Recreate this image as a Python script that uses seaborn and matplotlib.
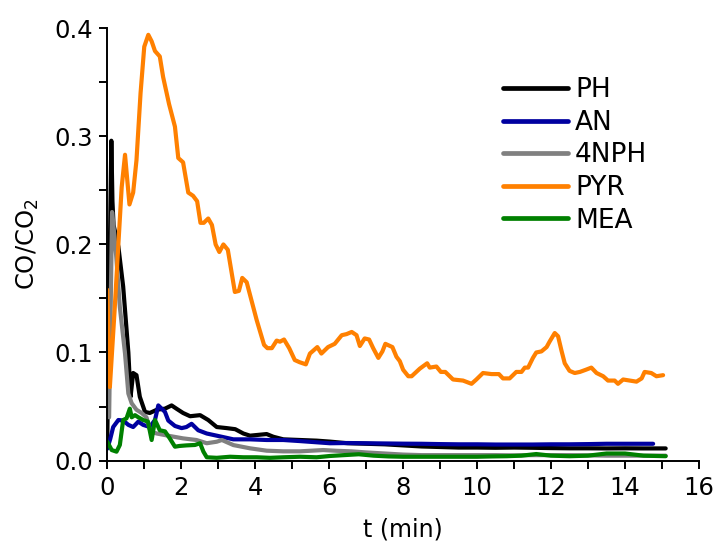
import pandas as pd
import matplotlib
matplotlib.use("Agg")
import matplotlib.pyplot as plt
import seaborn as sns
from matplotlib.ticker import MultipleLocator

# --- data (t in min, CO/CO2 ratio) ---
ph_t = [0, 0.06, 0.11, 0.14, 0.17, 0.3, 0.43, 0.57, 0.63, 0.70, 0.79, 0.88, 1.02, 1.15, 1.34,
        1.56, 1.74, 1.87, 2.05, 2.24, 2.51, 2.73, 2.96, 3.23, 3.46, 3.68, 3.86, 4.31, 4.49, 4.76,
        5.21, 5.66, 6.02, 6.5, 7.0, 7.5, 8.0, 8.5, 9.0, 9.5, 10.0, 10.5, 11.0, 11.5, 12.0, 12.5,
        13.0, 13.5, 14.0, 14.5, 15.1]
ph_y = [0.02, 0.17, 0.296, 0.24, 0.218, 0.198, 0.161, 0.1, 0.059, 0.081, 0.079, 0.059, 0.045,
        0.044, 0.047, 0.048, 0.051, 0.048, 0.044, 0.041, 0.042, 0.0375, 0.031, 0.030, 0.029,
        0.025, 0.023, 0.0245, 0.022, 0.0196, 0.019, 0.0184, 0.0175, 0.016, 0.0155, 0.015, 0.014,
        0.013, 0.0125, 0.012, 0.012, 0.0118, 0.012, 0.0118, 0.0115, 0.0113, 0.0113, 0.0112,
        0.0113, 0.0112, 0.0112]

an_t = [0, 0.08, 0.16, 0.3, 0.43, 0.57, 0.70, 0.84, 0.97, 1.15, 1.29, 1.38, 1.47, 1.56, 1.65,
        1.83, 2.01, 2.14, 2.28, 2.46, 2.69, 2.96, 3.41, 3.86, 4.31, 4.76, 5.21, 6.02, 6.5, 7.0,
        7.5, 8.0, 8.5, 9.0, 9.5, 10.0, 10.5, 11.0, 11.5, 12.0, 12.5, 13.0, 13.5, 14.0, 14.5, 14.76]
an_y = [0.011, 0.02, 0.031, 0.0375, 0.037, 0.033, 0.031, 0.036, 0.033, 0.031, 0.0375, 0.051,
        0.048, 0.045, 0.037, 0.032, 0.030, 0.031, 0.034, 0.028, 0.025, 0.023, 0.0196, 0.0196,
        0.019, 0.019, 0.018, 0.016, 0.0162, 0.016, 0.0158, 0.0156, 0.0155, 0.0152, 0.015, 0.015,
        0.0148, 0.0148, 0.0148, 0.015, 0.015, 0.0152, 0.0155, 0.0155, 0.0155, 0.0155]

nph_t = [0.05, 0.1, 0.13, 0.16, 0.24, 0.34, 0.48, 0.57, 0.66, 0.79, 0.93, 1.06, 1.15, 1.24, 1.34,
         1.69, 2.05, 2.41, 2.69, 2.96, 3.1, 3.41, 3.86, 4.31, 4.76, 5.21, 5.84, 6.2, 6.6, 7.0,
         7.5, 8.0, 8.5, 9.0, 9.5, 10.0, 10.5, 11.0, 11.5, 12.0, 12.5, 13.0, 13.5, 14.0, 14.5, 15.1]
nph_y = [0.04, 0.16, 0.23, 0.22, 0.19, 0.142, 0.099, 0.062, 0.053, 0.047, 0.044, 0.04, 0.029,
         0.026, 0.025, 0.0227, 0.0205, 0.019, 0.016, 0.0174, 0.019, 0.0143, 0.0113, 0.0091,
         0.0085, 0.0085, 0.0097, 0.009, 0.0085, 0.0075, 0.0065, 0.0055, 0.005, 0.005, 0.005,
         0.005, 0.005, 0.0048, 0.005, 0.005, 0.005, 0.0048, 0.0045, 0.0045, 0.0045, 0.0045]

pyr_t = [0, 0.07, 0.2, 0.3, 0.39, 0.48, 0.6, 0.7, 0.79, 0.9, 1.0, 1.11, 1.2, 1.29, 1.42, 1.51,
         1.67, 1.83, 1.92, 2.05, 2.19, 2.32, 2.43, 2.52, 2.61, 2.73, 2.83, 2.93, 3.03, 3.14, 3.26,
         3.45, 3.56, 3.65, 3.77, 4.04, 4.24, 4.33, 4.45, 4.58, 4.67, 4.78, 4.92, 5.07, 5.2, 5.37,
         5.48, 5.68, 5.79, 5.97, 6.15, 6.34, 6.47, 6.61, 6.74, 6.83, 6.96, 7.08, 7.19, 7.33, 7.44,
         7.52, 7.71, 7.82, 7.91, 8.0, 8.14, 8.23, 8.45, 8.65, 8.72, 8.9, 9.02, 9.14, 9.35, 9.62,
         9.85, 9.98, 10.16, 10.39, 10.59, 10.7, 10.88, 11.06, 11.2, 11.29, 11.38, 11.51, 11.6,
         11.74, 11.88, 11.96, 12.1, 12.19, 12.28, 12.37, 12.5, 12.64, 12.78, 12.94, 13.09, 13.23,
         13.41, 13.54, 13.72, 13.81, 13.95, 14.13, 14.31, 14.45, 14.53, 14.71, 14.85, 15.03]
pyr_y = [0.158, 0.068, 0.14, 0.2, 0.253, 0.283, 0.237, 0.248, 0.278, 0.34, 0.383, 0.394, 0.388,
         0.379, 0.374, 0.355, 0.33, 0.309, 0.28, 0.276, 0.248, 0.245, 0.24, 0.22, 0.22, 0.224,
         0.218, 0.2, 0.193, 0.2, 0.195, 0.156, 0.157, 0.169, 0.165, 0.130, 0.107, 0.104, 0.104,
         0.111, 0.110, 0.112, 0.104, 0.093, 0.091, 0.089, 0.099, 0.105, 0.099, 0.105, 0.108, 0.116,
         0.117, 0.119, 0.116, 0.106, 0.113, 0.112, 0.104, 0.095, 0.101, 0.108, 0.105, 0.096, 0.092,
         0.084, 0.078, 0.078, 0.085, 0.09, 0.086, 0.087, 0.082, 0.082, 0.075, 0.074, 0.071, 0.075,
         0.081, 0.080, 0.080, 0.076, 0.076, 0.082, 0.082, 0.086, 0.086, 0.095, 0.1, 0.101, 0.105,
         0.110, 0.118, 0.115, 0.102, 0.09, 0.083, 0.081, 0.082, 0.084, 0.086, 0.081, 0.078, 0.074,
         0.074, 0.071, 0.075, 0.074, 0.073, 0.076, 0.082, 0.081, 0.078, 0.079]

mea_t = [0, 0.12, 0.25, 0.34, 0.43, 0.52, 0.61, 0.66, 0.75, 0.84, 0.97, 1.1, 1.2, 1.29, 1.42,
         1.56, 1.69, 1.83, 1.96, 2.14, 2.37, 2.51, 2.6, 2.69, 2.96, 3.32, 3.68, 4.04, 4.4, 4.76,
         5.21, 5.66, 6.02, 6.4, 6.8, 7.2, 7.6, 8.0, 8.5, 9.0, 9.5, 10.0, 10.4, 10.8, 11.2, 11.6,
         12.0, 12.5, 13.0, 13.5, 14.0, 14.5, 15.1]
mea_y = [0.0174, 0.0097, 0.0082, 0.0144, 0.0375, 0.039, 0.048, 0.040, 0.042, 0.040, 0.0375,
         0.036, 0.019, 0.0375, 0.028, 0.027, 0.0205, 0.0128, 0.0135, 0.014, 0.0144, 0.016, 0.0082,
         0.003, 0.0025, 0.0035, 0.003, 0.003, 0.0025, 0.003, 0.0035, 0.003, 0.0042, 0.005, 0.0058,
         0.0045, 0.0038, 0.0035, 0.0035, 0.0035, 0.0035, 0.0035, 0.0038, 0.004, 0.0045, 0.006,
         0.0045, 0.004, 0.0045, 0.0065, 0.0065, 0.0045, 0.004]

series = {"PH": (ph_t, ph_y), "AN": (an_t, an_y), "4NPH": (nph_t, nph_y),
          "PYR": (pyr_t, pyr_y), "MEA": (mea_t, mea_y)}
colors = {"PH": "#000000", "AN": "#0000a0", "4NPH": "#808080", "PYR": "#ff8000", "MEA": "#008000"}

df = pd.concat([pd.DataFrame({"t": t, "ratio": y, "name": k}) for k, (t, y) in series.items()],
               ignore_index=True)

# --- figure ---
sns.set_style("ticks")
plt.rcParams['font.family'] = ['DejaVu Sans']
plt.rcParams['mathtext.default'] = 'regular'
for key in ['text.color', 'axes.labelcolor', 'xtick.color', 'ytick.color']:
    plt.rcParams[key] = 'black'

fig = plt.figure(figsize=(7.18, 5.45), dpi=100)
ax = fig.add_axes([0.1494, 0.155, 0.8241, 0.793])

sns.lineplot(data=df, x="t", y="ratio", hue="name", palette=colors, estimator=None,
             sort=False, linewidth=3.0, ax=ax)

ax.set_xlim(0, 16)
ax.set_ylim(0, 0.4)
ax.xaxis.set_major_locator(MultipleLocator(2))
ax.xaxis.set_minor_locator(MultipleLocator(1))
ax.yaxis.set_major_locator(MultipleLocator(0.1))
ax.yaxis.set_minor_locator(MultipleLocator(0.05))
ax.yaxis.set_major_formatter(plt.FormatStrFormatter('%.1f'))
ax.tick_params(which='both', direction='out', length=6, width=1.4, colors='black')
ax.tick_params(which='major', labelsize=17.5, pad=4)
ax.tick_params(axis='x', which='major', pad=5)
for s in ['left', 'bottom']:
    ax.spines[s].set_linewidth(1.4)
    ax.spines[s].set_color('black')
sns.despine(ax=ax)

ax.set_xlabel("t (min)", fontsize=17, labelpad=13)
ax.set_ylabel("CO/CO$_2$", fontsize=17.5, labelpad=10)

leg = ax.legend(loc='upper left', bbox_to_anchor=(0.6687, 0.887), frameon=False, fontsize=19,
                handlelength=2.46, handletextpad=0.27, labelspacing=0.25,
                borderpad=0, borderaxespad=0)
for line in leg.get_lines():
    line.set_linewidth(3.4)

plt.savefig("out.png", dpi=100)
plt.close()
